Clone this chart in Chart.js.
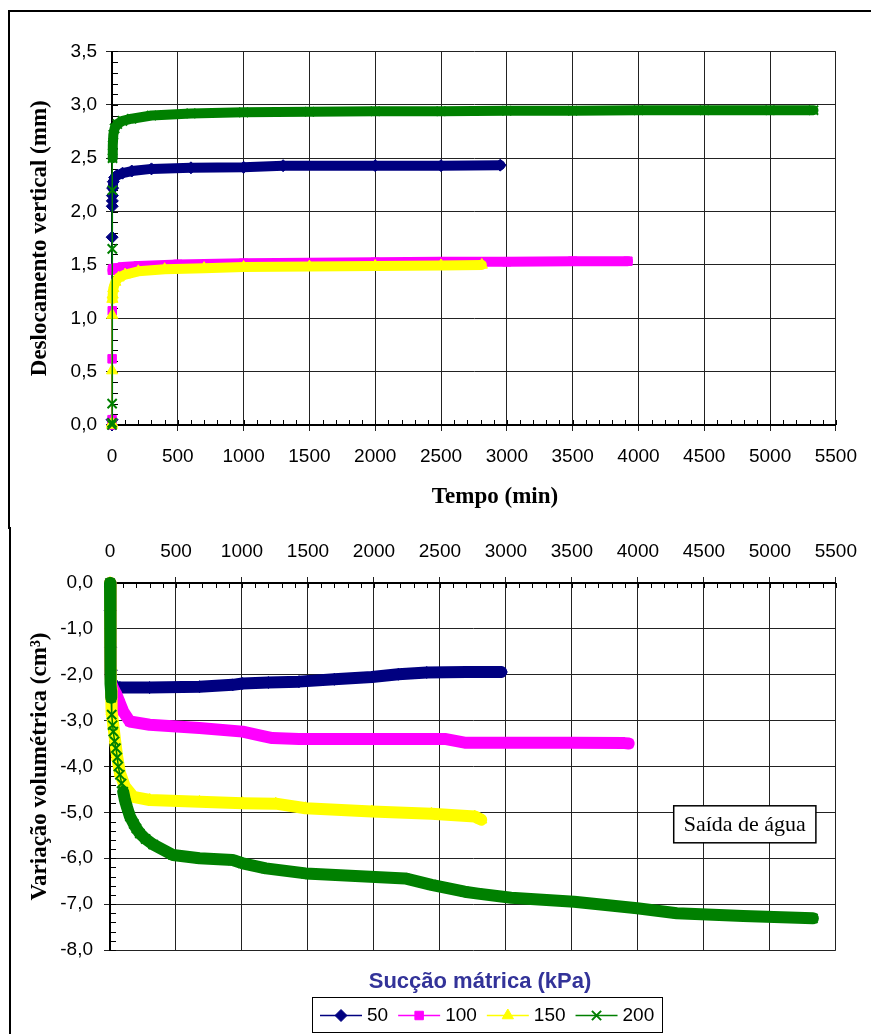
<!DOCTYPE html>
<html>
<head>
<meta charset="utf-8">
<script src="https://cdn.jsdelivr.net/npm/chart.js@4.4.0/dist/chart.umd.min.js"></script>
<style>
  body { margin: 0; background: #fff; width: 871px; height: 1034px; position: relative; overflow: hidden; }
  #molduraSup { position: absolute; left: 8px; top: 10px; width: 863px; height: 519px; border-top: 2px solid #000; border-left: 2px solid #000; box-sizing: border-box; }
  #molduraInf { position: absolute; left: 9px; top: 527px; width: 2px; height: 507px; background: #000; }
  #graficoDesl { position: absolute; left: 0; top: 0; }
  #graficoVol { position: absolute; left: 0; top: 527px; }
</style>
</head>
<body>
<div id="molduraSup"></div>
<div id="molduraInf"></div>
<canvas id="graficoDesl" width="871" height="527"></canvas>
<canvas id="graficoVol" width="871" height="507"></canvas>
<script>
// sucção mátrica (kPa)
const succoes = ['50', '100', '150', '200'];

// deslocamento vertical (mm) x tempo (min)
const tDesl50 = [0, 0.5, 1, 2, 2.5, 3, 5, 10, 20, 40, 80, 150, 300, 600, 1000, 1300, 2000, 2500, 2950];
const desl50 = [0, 0.05, 1.76, 2.05, 2.1, 2.15, 2.22, 2.28, 2.32, 2.34, 2.36, 2.38, 2.40, 2.41, 2.415, 2.43, 2.43, 2.43, 2.435];
const tDesl100 = [0, 0.5, 1, 2, 3, 5, 10, 30, 80, 200, 500, 1000, 1500, 2000, 2500, 3000, 3500, 3920];
const desl100 = [0, 0.05, 0.62, 1.07, 1.45, 1.46, 1.465, 1.47, 1.48, 1.49, 1.505, 1.515, 1.52, 1.525, 1.53, 1.53, 1.535, 1.535];
const tDesl150 = [0, 0.5, 1, 2, 3, 5, 10, 25, 50, 100, 200, 400, 700, 1000, 1500, 2000, 2500, 2810];
const desl150 = [0, 0.02, 0.51, 1.03, 1.18, 1.22, 1.28, 1.34, 1.38, 1.41, 1.44, 1.46, 1.47, 1.48, 1.485, 1.49, 1.495, 1.5];
const tDesl200 = [0, 0.5, 1, 2, 3, 4, 6, 10, 20, 40, 80, 150, 300, 600, 1000, 1500, 2000, 2500, 3000, 3500, 4000, 4500, 5000, 5330];
const desl200 = [0, 0.02, 0.2, 1.65, 2.2, 2.5, 2.62, 2.72, 2.78, 2.82, 2.85, 2.87, 2.9, 2.92, 2.93, 2.935, 2.94, 2.94, 2.945, 2.945, 2.95, 2.95, 2.95, 2.95];

// variação volumétrica (cm3) x tempo (min)
const tVol50 = [0, 2, 5, 10, 20, 40, 75, 300, 678, 929, 1005, 1200, 1432, 1700, 1984, 2185, 2400, 2700, 2965];
const vol50 = [0, -0.6, -1.4, -1.9, -2.2, -2.27, -2.28, -2.28, -2.26, -2.22, -2.19, -2.17, -2.15, -2.10, -2.05, -1.99, -1.95, -1.94, -1.94];
const tVol100 = [0, 2, 4, 6, 10, 25, 50, 75, 100, 150, 300, 678, 1005, 1150, 1230, 1432, 2000, 2537, 2687, 3090, 3500, 3900, 3930];
const vol100 = [0, -0.8, -1.6, -2.0, -2.2, -2.3, -2.44, -2.62, -2.8, -3.02, -3.09, -3.16, -3.24, -3.33, -3.38, -3.40, -3.40, -3.40, -3.48, -3.48, -3.48, -3.49, -3.5];
const tVol150 = [0, 2, 4, 6, 8, 12, 25, 38, 55, 75, 113, 176, 301, 678, 1005, 1256, 1482, 1984, 2436, 2763, 2813];
const vol150 = [0, -0.5, -1.2, -1.8, -2.3, -2.8, -3.1, -3.42, -3.8, -4.14, -4.44, -4.66, -4.73, -4.77, -4.80, -4.81, -4.91, -4.98, -5.03, -5.09, -5.16];
const tVol200 = [0, 1, 2, 3, 4, 5, 6, 7, 8, 9, 13, 20, 25, 35, 45, 55, 63, 75, 88, 100, 113, 130, 151, 180, 200, 226, 270, 327, 477, 678, 929, 1005, 1181, 1482, 1934, 2236, 2436, 2687, 2788, 3039, 3517, 3994, 4295, 4798, 5326];
const vol200 = [0, -0.3, -0.7, -1.0, -1.4, -1.7, -2.0, -2.2, -2.35, -2.5, -2.87, -3.1, -3.24, -3.45, -3.6, -3.8, -4.0, -4.18, -4.37, -4.55, -4.73, -4.9, -5.09, -5.25, -5.35, -5.46, -5.58, -5.7, -5.93, -6.0, -6.04, -6.11, -6.22, -6.33, -6.40, -6.44, -6.58, -6.73, -6.77, -6.86, -6.95, -7.09, -7.2, -7.26, -7.31];

const cores = ['#000080', '#ff00ff', '#ffff00', '#008000'];
const marcadores = ['rectRot', 'rect', 'triangle', 'crossRot'];
const raios = [6, 6, 6.5, 6.5];

Chart.defaults.font.family = '"Liberation Sans", Arial, sans-serif';
Chart.defaults.font.size = 19;
Chart.defaults.color = '#000';

const serif = '"Liberation Serif", "Times New Roman", serif';
const virgula = v => v.toFixed(1).replace('.', ',');

// faixa espessa onde os marcadores se acumulam; trecho fino entre fino[0] e fino[1]
function serie(i, ts, vs, faixa, fino) {
  return {
    label: succoes[i],
    data: ts.map((t, k) => ({x: t, y: vs[k]})),
    borderColor: cores[i],
    backgroundColor: cores[i],
    pointStyle: marcadores[i],
    pointRadius: raios[i],
    pointBorderWidth: i == 3 ? 2 : 1,
    borderWidth: faixa,
    borderCapStyle: 'round',
    borderJoinStyle: 'round',
    order: 4 - i,
    clip: 10,
    segment: {
      borderWidth: ctx => {
        if (!fino) return faixa;
        const d = ctx.chart.data.datasets[ctx.datasetIndex].data;
        const a = d[ctx.p0DataIndex].x, b = d[ctx.p1DataIndex].x;
        return (a >= fino[0] && b <= fino[1]) ? 1.5 : faixa;
      }
    }
  };
}

// marcas secundárias para dentro da área do gráfico
const marcasMenores = {
  id: 'marcasMenores',
  beforeDatasetsDraw(chart, args, o) {
    const {ctx, chartArea: a, scales: {x, y}} = chart;
    ctx.save();
    ctx.strokeStyle = '#000';
    ctx.lineWidth = 1;
    ctx.beginPath();
    for (let v = x.min; v <= x.max + 1e-6; v += o.passoX) {
      const px = Math.round(x.getPixelForValue(v)) + 0.5;
      if (o.xNoTopo) { ctx.moveTo(px, a.top); ctx.lineTo(px, a.top + 5); }
      else { ctx.moveTo(px, a.bottom); ctx.lineTo(px, a.bottom - 5); }
    }
    for (let v = y.min; v <= y.max + 1e-6; v += o.passoY) {
      const py = Math.round(y.getPixelForValue(v)) + 0.5;
      ctx.moveTo(a.left, py); ctx.lineTo(a.left + 6, py);
    }
    ctx.stroke();
    ctx.restore();
  }
};

const textoLivre = {
  id: 'textoLivre',
  afterDraw(chart, args, o) {
    if (!o.texto) return;
    const ctx = chart.ctx;
    ctx.save();
    ctx.font = o.fonte;
    ctx.fillStyle = '#000';
    ctx.textAlign = 'center';
    ctx.textBaseline = 'middle';
    ctx.fillText(o.texto, o.x, o.y);
    ctx.restore();
  }
};

const caixaTexto = {
  id: 'caixaTexto',
  afterDatasetsDraw(chart, args, o) {
    if (!o.texto) return;
    const {ctx, scales: {x, y}} = chart;
    const cx = x.getPixelForValue(o.x), cy = y.getPixelForValue(o.y);
    ctx.save();
    ctx.font = o.fonte;
    const w = ctx.measureText(o.texto).width + 20, h = 37;
    ctx.fillStyle = '#fff';
    ctx.fillRect(cx - w / 2, cy - h / 2, w, h);
    ctx.strokeStyle = '#000';
    ctx.lineWidth = 1.5;
    ctx.strokeRect(cx - w / 2, cy - h / 2, w, h);
    ctx.fillStyle = '#000';
    ctx.textAlign = 'center';
    ctx.textBaseline = 'middle';
    ctx.fillText(o.texto, cx, cy + 1);
    ctx.restore();
  }
};

const legendaCaixa = {
  id: 'legendaCaixa',
  afterDraw(chart, args, o) {
    if (!o.titulo) return;
    const ctx = chart.ctx;
    const sets = chart.data.datasets;
    ctx.save();
    ctx.font = 'bold 22px "Liberation Sans", Arial, sans-serif';
    ctx.fillStyle = '#333399';
    ctx.textAlign = 'center';
    ctx.textBaseline = 'middle';
    ctx.fillText(o.titulo, o.tituloX, o.tituloY);

    ctx.font = '19px "Liberation Sans", Arial, sans-serif';
    const linha = 42, gap = 5, sep = 10;
    const larg = sets.map(d => ctx.measureText(d.label).width);
    const total = sets.length * (linha + gap) + larg.reduce((s, v) => s + v, 0) + (sets.length - 1) * sep;
    const w = Math.round(total + 16);
    const left = Math.round(o.cx - w / 2);
    ctx.strokeStyle = '#000';
    ctx.lineWidth = 1;
    ctx.strokeRect(left + 0.5, o.topo + 0.5, w, o.altura);
    const y = o.topo + o.altura / 2 + 1;
    let x = left + 8;
    ctx.textAlign = 'left';
    sets.forEach((d, i) => {
      ctx.strokeStyle = d.borderColor;
      ctx.fillStyle = d.backgroundColor;
      ctx.lineWidth = 1.5;
      ctx.beginPath();
      ctx.moveTo(x, y);
      ctx.lineTo(x + linha, y);
      ctx.stroke();
      ctx.lineWidth = d.pointBorderWidth;
      Chart.helpers.drawPoint(ctx, {pointStyle: d.pointStyle, radius: d.pointRadius, borderWidth: d.pointBorderWidth, rotation: 0}, x + linha / 2, y);
      ctx.fillStyle = '#000';
      ctx.fillText(d.label, x + linha + gap, y);
      x += linha + gap + larg[i] + sep;
    });
    ctx.restore();
  }
};

function eixoY(min, max, passo, titulo, largura, pad) {
  return {
    type: 'linear', min: min, max: max,
    ticks: {stepSize: passo, padding: pad, callback: virgula},
    grid: {color: '#222', lineWidth: 1, tickLength: 6},
    border: {display: true, color: '#000', width: 2},
    title: {display: true, text: titulo, color: '#000', padding: {top: 26, bottom: 0},
            font: {family: serif, size: 23, weight: 'bold'}},
    afterFit: s => { s.width = largura; }
  };
}

function eixoX(pos, altura) {
  return {
    type: 'linear', position: pos, min: 0, max: 5500,
    ticks: {stepSize: 500, padding: 14, callback: v => String(v)},
    grid: {color: '#222', lineWidth: 1, tickLength: 6},
    border: {display: true, color: '#000', width: 2},
    afterFit: s => { s.height = altura; }
  };
}

const plugins = [marcasMenores, textoLivre, caixaTexto, legendaCaixa];

new Chart(document.getElementById('graficoDesl'), {
  type: 'line',
  plugins: plugins,
  data: {
    datasets: [
      serie(0, tDesl50, desl50, 10, [0, 5]),
      serie(1, tDesl100, desl100, 10, [0, 3]),
      serie(2, tDesl150, desl150, 10, [0, 3]),
      serie(3, tDesl200, desl200, 10, [0, 4])
    ]
  },
  options: {
    responsive: false,
    animation: false,
    layout: {padding: {left: 0, right: 29, top: 51.5, bottom: 0}},
    scales: {
      x: eixoX('bottom', 102),
      y: eixoY(0, 3.5, 0.5, 'Deslocamento vertical (mm)', 112, 9)
    },
    plugins: {
      legend: {display: false},
      tooltip: {enabled: false},
      marcasMenores: {passoX: 100, passoY: 0.1, xNoTopo: false},
      textoLivre: {texto: 'Tempo (min)', x: 495, y: 497, fonte: 'bold 23px ' + serif}
    }
  }
});

new Chart(document.getElementById('graficoVol'), {
  type: 'line',
  plugins: plugins,
  data: {
    datasets: [
      serie(0, tVol50, vol50, 12, [0, 20]),
      serie(1, tVol100, vol100, 12, null),
      serie(2, tVol150, vol150, 12, null),
      serie(3, tVol200, vol200, 12, [9, 100])
    ]
  },
  options: {
    responsive: false,
    animation: false,
    layout: {padding: {left: 0, right: 31, top: 0, bottom: 84}},
    scales: {
      x: eixoX('top', 56),
      y: eixoY(-8, 0, 1, 'Variação volumétrica (cm³)', 110, 11)
    },
    plugins: {
      legend: {display: false},
      tooltip: {enabled: false},
      marcasMenores: {passoX: 100, passoY: 0.2, xNoTopo: true},
      caixaTexto: {texto: 'Saída de água', x: 4810, y: -5.26, fonte: '22px ' + serif},
      legendaCaixa: {titulo: 'Sucção mátrica (kPa)', tituloX: 480, tituloY: 455, cx: 487, topo: 470, altura: 35}
    }
  }
});
</script>
</body>
</html>
